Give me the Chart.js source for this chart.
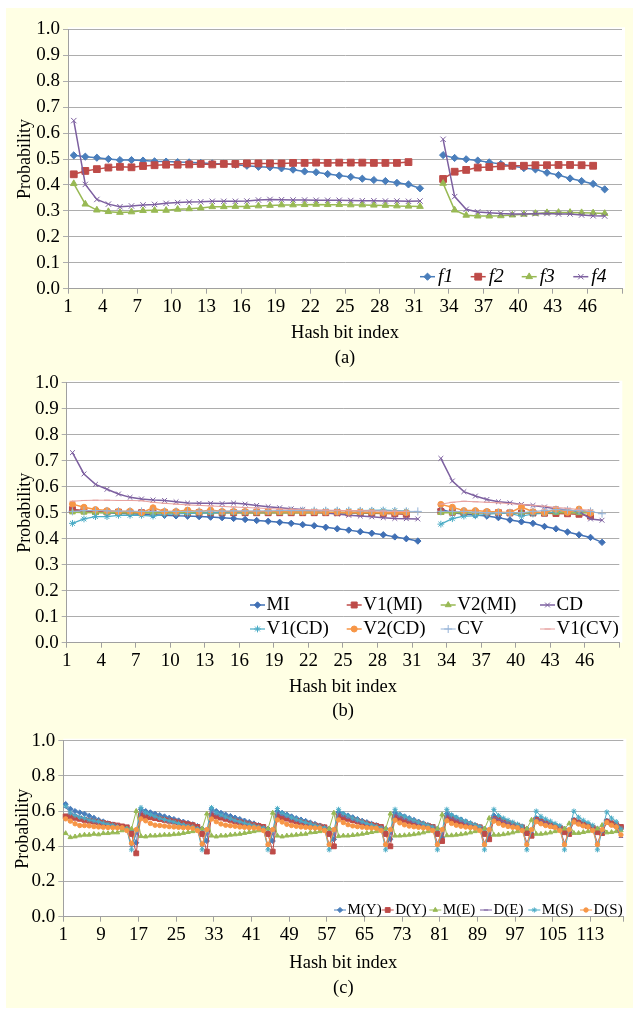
<!DOCTYPE html>
<html>
<head>
<meta charset="utf-8">
<script src="https://cdn.jsdelivr.net/npm/chart.js@4.4.1/dist/chart.umd.min.js"></script>
<style>
html,body{margin:0;padding:0;background:#fff;}
#page{position:relative;width:633px;height:1010px;overflow:hidden;}
#bg{position:absolute;left:6px;top:8px;width:627px;height:1000px;background:#FFFFE4;}
canvas{position:absolute;left:0;}
</style>
</head>
<body>
<div id="page">
  <div id="bg"></div>
  <canvas id="ca" width="633" height="362" style="top:8px;width:633px;height:362px"></canvas>
  <canvas id="cb" width="633" height="362" style="top:362px;width:633px;height:362px"></canvas>
  <canvas id="cc" width="633" height="284" style="top:724px;width:633px;height:284px"></canvas>
</div>
<script>
'use strict';

// ---- categories / tick labels ----
const catsAB = Array.from({length:48}, (_, i) => String(i + 1));
const ticksAB = [1,4,7,10,13,16,19,22,25,28,31,34,37,40,43,46];
const catsC = Array.from({length:119}, (_, i) => String(i + 1));
const ticksC = [1,9,17,25,33,41,49,57,65,73,81,89,97,105,113];

// ---- panel (a) ----
const f1 = [.514,.509,.505,.500,.496,.496,.494,.491,.490,.488,.487,.485,.483,.482,.478,.474,.470,.468,.464,.459,.452,.449,.442,.436,.431,.424,.419,.415,.408,.402,.387,null,
            .515,.504,.499,.494,.487,.481,.473,.465,.460,.447,.438,.425,.415,.404,.383,null];
const f2 = [.441,.454,.461,.467,.470,.468,.473,.476,.478,.478,.479,.481,.479,.481,.481,.483,.483,.483,.483,.485,.485,.486,.485,.486,.486,.486,.485,.485,.485,.488,null,null,
            .423,.451,.458,.467,.469,.472,.474,.474,.476,.476,.477,.477,.476,.474,null,null];
const f3 = [.405,.326,.303,.297,.294,.296,.301,.302,.302,.306,.308,.311,.316,.316,.317,.317,.319,.321,.323,.323,.324,.325,.324,.324,.323,.323,.322,.321,.319,.318,.317,null,
            .406,.303,.283,.280,.280,.281,.284,.287,.290,.293,.294,.294,.293,.292,.290,null];
const f4 = [.648,.402,.344,.326,.316,.319,.323,.325,.329,.332,.334,.335,.337,.337,.337,.338,.342,.344,.343,.342,.342,.341,.341,.341,.340,.339,.339,.338,.338,.337,.338,null,
            .576,.355,.306,.296,.293,.290,.288,.288,.289,.290,.288,.288,.284,.281,.280,null];

// ---- panel (b) ----
const MI   = [.510,.506,.503,.500,.497,.496,.494,.492,.490,.488,.487,.485,.483,.481,.478,.474,.470,.467,.463,.459,.454,.450,.444,.438,.433,.427,.421,.415,.407,.400,.391,null,
              .513,.500,.495,.491,.487,.481,.472,.465,.459,.447,.438,.426,.415,.405,.386,null];
const V1MI = [.512,.508,.505,.503,.502,.501,.500,.501,.500,.500,.500,.500,.500,.500,.500,.500,.500,.500,.500,.500,.500,.500,.500,.500,.499,.499,.498,.497,.496,.494,null,null,
              .505,.502,.501,.500,.500,.500,.499,.499,.499,.498,.497,.496,.494,.487,null,null];
const V2MI = [.502,.501,.500,.500,.500,.499,.500,.500,.499,.500,.500,.500,.500,.500,.500,.500,.499,.500,.500,.500,.500,.500,.500,.500,.500,.500,.500,.499,.500,.500,null,null,
              .500,.500,.501,.500,.500,.500,.499,.500,.500,.500,.500,.500,.499,.500,null,null];
const CD   = [.731,.649,.609,.590,.572,.559,.553,.549,.547,.542,.537,.536,.536,.535,.537,.533,.528,.523,.519,.515,.512,.505,.499,.495,.490,.487,.484,.481,.478,.477,.476,null,
              .709,.622,.581,.564,.551,.542,.538,.532,.528,.522,.515,.510,.505,.476,.471,null];
const V1CD = [.459,.476,.485,.485,.490,.490,.490,.487,.493,.495,.497,.498,.499,.500,.501,.502,.503,.504,.505,.505,.506,.507,.508,.508,.508,.508,.509,.510,.508,.506,null,null,
              .456,.477,.487,.488,.494,.497,.497,.487,.495,.497,.504,.508,.506,.504,null,null];
const V2CD = [.533,.521,.512,.508,.505,.506,.500,.519,.505,.505,.510,.504,.510,.505,.505,.505,.504,.505,.505,.504,.503,.503,.502,.502,.502,.503,.502,.500,.500,.500,null,null,
              .532,.521,.508,.508,.505,.503,.500,.522,.504,.500,.513,.501,.514,.498,null,null];
const CV   = [.505,.508,.508,.507,.506,.506,.505,.505,.505,.505,.505,.506,.506,.506,.507,.507,.507,.507,.508,.508,.508,.508,.508,.508,.508,.507,.507,.507,.506,.505,.505,null,
              .505,.505,.505,.502,.500,.500,.500,.500,.505,.508,.512,.510,.508,.505,.496,null];
const V1CV = [.544,.547,.548,.548,.547,.547,.546,.540,.536,.533,.530,.528,.526,.524,.522,.520,.518,.516,.514,.513,.512,.511,.510,.509,.508,.508,.507,.506,.505,.505,null,null,
              .533,.540,.544,.542,.540,.538,.535,.532,.528,.525,.520,.517,.512,.510,null,null];

// ---- panel (c) : one inner list per run of bits ----
const MY = [
  [.64,.613,.60,.592,.585,.573,.562,.55,.541,.531,.524,.516,.509,.503,.49,.42],
  [.61,.60,.593,.585,.577,.57,.562,.555,.547,.54,.533,.525,.515,.50,.43],
  [.61,.60,.59,.58,.572,.563,.555,.546,.538,.53,.52,.51,.50,.43],
  [.60,.59,.58,.57,.56,.552,.544,.535,.527,.518,.51,.50,.44],
  [.595,.585,.575,.565,.555,.545,.537,.528,.52,.51,.50,.44],
  [.59,.58,.57,.56,.55,.54,.53,.52,.51,.50,.45],
  [.585,.575,.563,.552,.541,.53,.52,.51,.50,.46],
  [.575,.565,.552,.54,.53,.52,.51,.50,.47],
  [.56,.55,.54,.53,.52,.51,.50,.48],
  [.55,.54,.53,.52,.51,.50,.48],
  [.545,.535,.525,.51]].flat();
const DY = [
  [.57,.57,.562,.556,.55,.545,.54,.536,.532,.527,.522,.518,.513,.508,.47,.36],
  [.575,.57,.565,.56,.555,.55,.545,.54,.535,.53,.525,.52,.51,.47,.37],
  [.575,.57,.563,.556,.55,.543,.537,.53,.525,.52,.515,.51,.47,.37],
  [.57,.565,.557,.55,.543,.536,.53,.524,.518,.513,.508,.47,.40],
  [.57,.563,.556,.549,.542,.535,.528,.522,.516,.51,.47,.40],
  [.565,.558,.55,.543,.536,.529,.522,.516,.51,.47,.43],
  [.56,.553,.545,.537,.53,.522,.515,.508,.47,.44],
  [.555,.548,.54,.532,.524,.516,.508,.475,.46],
  [.55,.54,.53,.522,.514,.506,.48,.47],
  [.545,.535,.525,.515,.505,.48,.475],
  [.54,.53,.52,.51]].flat();
const ME = [
  [.474,.451,.455,.461,.465,.465,.47,.467,.474,.474,.478,.478,.49,.50,.50,.60],
  [.457,.455,.46,.46,.462,.465,.465,.468,.47,.475,.48,.485,.49,.50,.585],
  [.46,.455,.46,.46,.465,.467,.47,.475,.48,.485,.49,.495,.50,.59],
  [.46,.455,.46,.462,.465,.468,.47,.478,.48,.485,.49,.50,.59],
  [.457,.46,.46,.463,.466,.47,.475,.48,.485,.49,.50,.585],
  [.46,.46,.462,.465,.468,.472,.478,.485,.49,.50,.58],
  [.462,.462,.465,.468,.472,.478,.485,.49,.50,.56],
  [.465,.465,.468,.472,.478,.485,.49,.50,.55],
  [.47,.47,.473,.478,.485,.49,.50,.53],
  [.475,.475,.48,.485,.49,.50,.52],
  [.478,.48,.485,.49]].flat();
const DE = [
  [.62,.59,.58,.57,.56,.55,.54,.535,.53,.525,.52,.51,.505,.495,.40,.47],
  [.595,.585,.575,.565,.555,.55,.54,.535,.53,.52,.515,.51,.50,.40,.47],
  [.595,.58,.57,.56,.55,.54,.535,.53,.52,.515,.51,.50,.40,.47],
  [.59,.575,.565,.555,.545,.537,.53,.522,.515,.51,.50,.41,.47],
  [.585,.57,.56,.55,.54,.532,.525,.517,.51,.50,.41,.47],
  [.58,.565,.555,.545,.535,.527,.52,.512,.50,.42,.47],
  [.575,.56,.55,.54,.53,.52,.51,.50,.42,.47],
  [.565,.553,.54,.53,.52,.51,.50,.42,.48],
  [.555,.545,.533,.522,.512,.50,.42,.48],
  [.545,.535,.522,.51,.50,.42,.48],
  [.54,.525,.51,.45]].flat();
const MS = [
  [.628,.589,.575,.565,.56,.55,.545,.54,.532,.525,.52,.512,.505,.50,.38,.49],
  [.62,.59,.58,.57,.56,.552,.545,.538,.53,.522,.515,.51,.50,.38,.49],
  [.62,.59,.578,.567,.557,.548,.54,.532,.525,.518,.51,.505,.38,.49],
  [.615,.588,.575,.563,.553,.544,.535,.528,.52,.513,.505,.38,.49],
  [.61,.585,.572,.56,.55,.54,.53,.522,.514,.505,.38,.49],
  [.61,.58,.568,.557,.547,.537,.528,.52,.51,.38,.49],
  [.61,.578,.565,.553,.542,.532,.522,.512,.38,.49],
  [.61,.575,.56,.548,.537,.526,.515,.38,.49],
  [.60,.57,.555,.543,.53,.518,.38,.49],
  [.60,.565,.548,.535,.52,.38,.49],
  [.595,.56,.54,.50]].flat();
const DS = [
  [.556,.543,.528,.518,.518,.516,.512,.51,.508,.507,.506,.505,.505,.49,.417,.495],
  [.556,.545,.53,.52,.518,.515,.512,.51,.508,.506,.505,.503,.49,.413,.495],
  [.555,.54,.527,.52,.517,.514,.51,.508,.506,.505,.503,.49,.41,.495],
  [.55,.538,.525,.518,.514,.51,.508,.506,.504,.503,.49,.41,.495],
  [.55,.535,.523,.516,.512,.509,.506,.504,.503,.49,.41,.495],
  [.548,.533,.522,.515,.511,.508,.505,.503,.49,.41,.495],
  [.545,.53,.52,.514,.51,.507,.504,.49,.41,.495],
  [.543,.53,.52,.513,.508,.505,.49,.41,.495],
  [.54,.528,.518,.512,.507,.49,.41,.495],
  [.538,.526,.516,.51,.49,.41,.495],
  [.535,.52,.51,.465]].flat();

// ---- styling ----
const FONT = "'Liberation Serif','Times New Roman',serif";
const GRID = '#ADADAD', AXIS = '#A0A0A0';
const BLUE='#4A7EBB', RED='#BE4B48', GREEN='#98B954', PURPLE='#7D60A0',
      CYAN='#4BACC6', ORANGE='#F79646', LBLUE='#95B3D7', PINK='#E6A09E';

function ser(label, data, color, style, r, lw){
  return {label, data, borderColor:color, backgroundColor:color, borderWidth:lw,
    pointStyle:style, pointRadius:r, pointBackgroundColor:color, pointBorderColor:color,
    pointBorderWidth:1, spanGaps:false, tension:0, fill:false};
}

const whitePlot = {id:'whitePlot', beforeDraw(ch){
  const a=ch.chartArea, c=ch.ctx;
  c.save(); c.fillStyle='#fff';
  c.fillRect(a.left, a.top-2, a.right-a.left+3, a.bottom-a.top+2);
  c.restore();
}};

function legendPlugin(spec){
  return {id:'xlegend', afterDraw(ch){
    const c=ch.ctx;
    c.save();
    spec.items.forEach((it,i)=>{
      const ds=ch.data.datasets[i];
      c.lineWidth=ds.borderWidth; c.strokeStyle=ds.borderColor;
      c.beginPath(); c.moveTo(it[0],it[1]); c.lineTo(it[0]+spec.len,it[1]); c.stroke();
      c.fillStyle=ds.pointBackgroundColor; c.strokeStyle=ds.pointBorderColor; c.lineWidth=ds.pointBorderWidth;
      Chart.helpers.drawPoint(c,{pointStyle:ds.pointStyle,rotation:0,radius:ds.pointRadius,borderWidth:ds.pointBorderWidth},it[0]+spec.len/2,it[1]);
      c.fillStyle='#000'; c.font=spec.font; c.textBaseline='middle'; c.textAlign='left';
      c.fillText(ds.label, it[0]+spec.len+spec.gap, it[1]);
    });
    c.restore();
  }};
}

function build(id, g, cats, shown, sets, yEvery, xTitle, titleLH, yTitlePad, legend){
  sets.forEach((d,i)=>{ d.order=-i; });
  const half=(g.right-g.left)/cats.length/2;
  return new Chart(document.getElementById(id), {
    type:'line',
    data:{labels:cats, datasets:sets},
    options:{
      responsive:false, animation:false, events:[],
      layout:{padding:{top:g.top, right:633-g.right, bottom:g.padBottom, left:0}},
      plugins:{legend:{display:false}, tooltip:{enabled:false}},
      scales:{
        x:{
          type:'category', offset:true,
          afterFit:s=>{ s.height=g.H-g.padBottom-g.bottom; },
          grid:{drawOnChartArea:false, offset:true, tickLength:5, lineWidth:1,
            color:c=>(c.index===undefined || shown.includes(c.index+1)) ? AXIS : 'rgba(0,0,0,0)'},
          border:{display:true, color:AXIS, width:1},
          ticks:{autoSkip:false, maxRotation:0, minRotation:0, padding:2, labelOffset:-half,
            color:'#000', font:{family:FONT, size:19},
            callback:(v,i)=> shown.includes(i+1) ? cats[i] : ''},
          title:{display:true, text:xTitle, color:'#000', padding:0,
            font:{family:FONT, size:18.5, lineHeight:titleLH/18.5}}
        },
        y:{
          min:0, max:1,
          afterFit:s=>{ s.width=g.left; },
          grid:{color:GRID, lineWidth:1, tickLength:5},
          border:{display:true, color:AXIS, width:1},
          ticks:{stepSize:0.1, padding:3, color:'#000', font:{family:FONT, size:19},
            callback:v=>{ const k=Math.round(v*10); return k%yEvery===0 ? (k/10).toFixed(1) : ''; }},
          title:{display:true, text:'Probability', color:'#000',
            font:{family:FONT, size:18}, padding:{top:yTitlePad, bottom:0}}
        }
      }
    },
    plugins:[whitePlot, legendPlugin(legend)]
  });
}

build('ca', {top:21.3, bottom:280.7, left:68, right:622, H:362, padBottom:0}, catsAB, ticksAB, [
  ser('f1', f1, BLUE,   'rectRot',  3.6, 1.5),
  ser('f2', f2, RED,    'rect',     4.8, 1.5),
  ser('f3', f3, GREEN,  'triangle', 3.8, 1.5),
  ser('f4', f4, PURPLE, 'crossRot', 3.8, 1.5)
], 1, ['Hash bit index','(a)'], 24.5, 14.2,
  {font:"italic 19.5px 'Liberation Serif'", len:15, gap:3,
   items:[[420,268.7],[470.7,268.7],[521.7,268.7],[573.3,268.7]]});

build('cb', {top:20.7, bottom:280.7, left:66.7, right:619.3, H:362, padBottom:1}, catsAB, ticksAB, [
  ser('MI',     MI,   '#4070B5', 'rectRot',  3.2, 1.5),
  ser('V1(MI)', V1MI, RED,       'rect',     4.2, 1.5),
  ser('V2(MI)', V2MI, GREEN,     'triangle', 3.4, 1.5),
  ser('CD',     CD,   PURPLE,    'crossRot', 3.4, 1.5),
  ser('V1(CD)', V1CD, CYAN,      'star',     3.4, 1.2),
  ser('V2(CD)', V2CD, ORANGE,    'circle',   3.0, 1.5),
  ser('CV',     CV,   LBLUE,     'cross',    4.0, 1),
  ser('V1(CV)', V1CV, PINK,      'line',     3.0, 1)
], 1, ['Hash bit index','(b)'], 24.2, 14.2,
  {font:"19px 'Liberation Serif'", len:15, gap:1.5,
   items:[[250,243],[346.7,243],[440.7,243],[540,243],[250,267],[346.7,267],[440.7,267],[540,267]]});

build('cc', {top:16.7, bottom:192.7, left:63.3, right:623.3, H:284, padBottom:7.2}, catsC, ticksC, [
  ser('M(Y)', MY, BLUE,   'rectRot',  2.6, 1),
  ser('D(Y)', DY, RED,    'rect',     3.4, 1),
  ser('M(E)', ME, GREEN,  'triangle', 2.6, 1),
  ser('D(E)', DE, PURPLE, 'line',     2.2, 1),
  ser('M(S)', MS, CYAN,   'star',     2.6, 1),
  ser('D(S)', DS, ORANGE, 'circle',   2.2, 1)
], 2, ['Hash bit index','(c)'], 25, 12.5,
  {font:"15px 'Liberation Serif'", len:12, gap:1.5,
   items:[[334,186],[381.7,186],[429.3,186],[480,186],[528.3,186],[580,186]]});
</script>
</body>
</html>
